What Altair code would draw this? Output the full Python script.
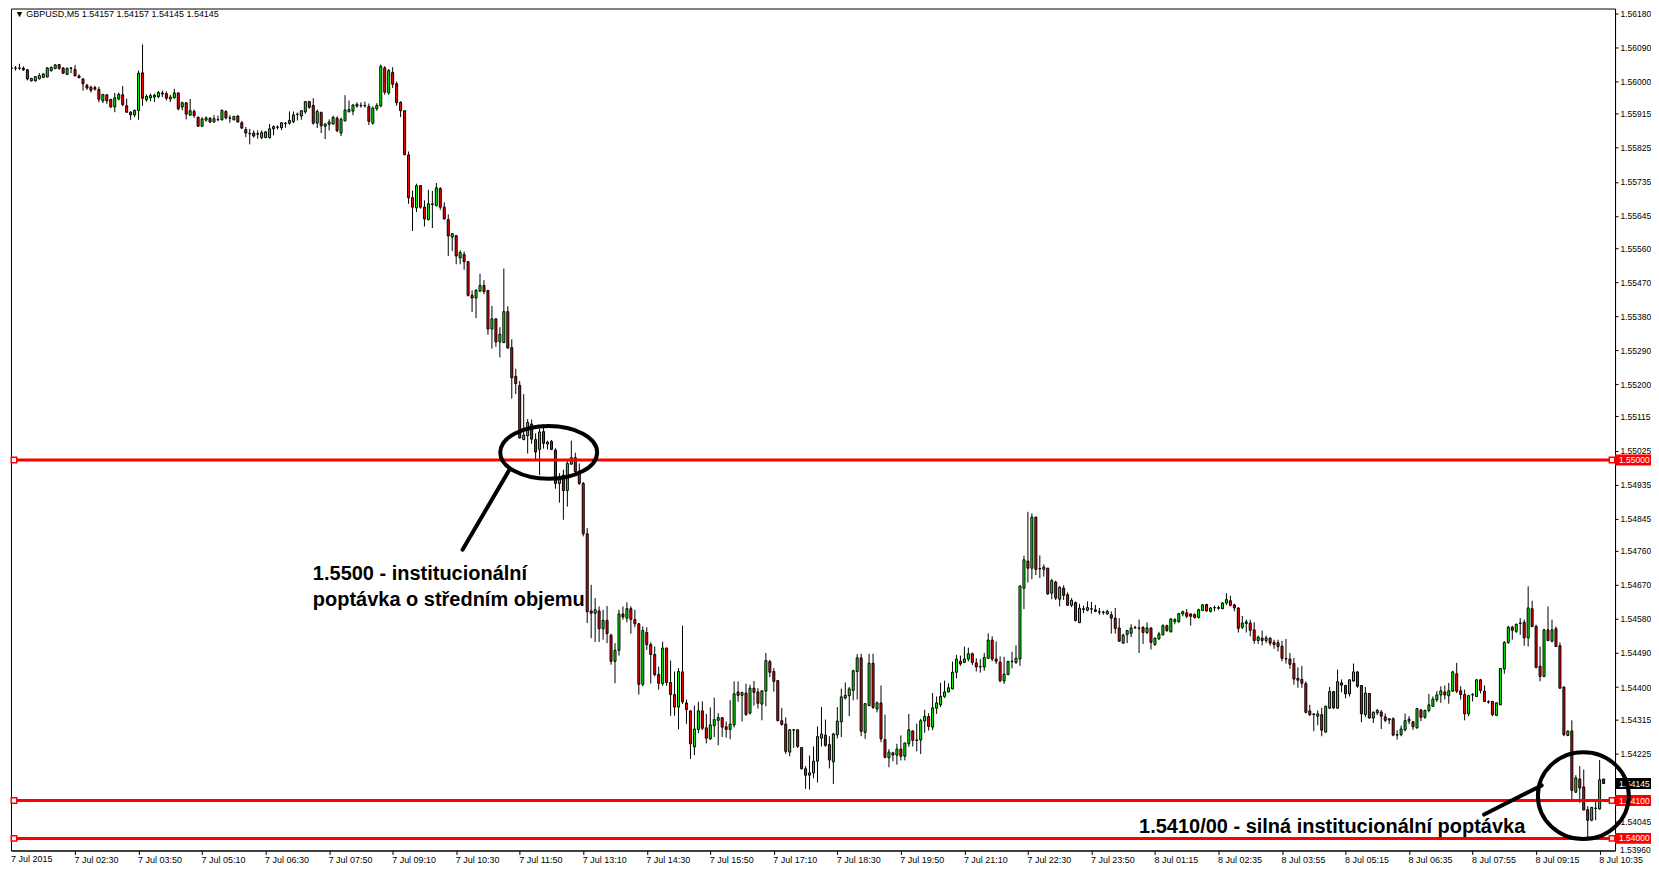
import altair as alt
import pandas as pd

# ---------------- data (GBPUSD M5) ----------------
opens = [
 1.56036,1.56035,1.56036,1.56035,1.56031,1.56002,1.56002,1.56007,1.56011,1.56012,
 1.56029,1.56034,1.56045,1.56036,1.56019,1.56035,1.56032,1.56015,1.56007,1.55990,
 1.55985,1.55984,1.55979,1.55949,1.55965,1.55953,1.55933,1.55954,1.55965,1.55936,
 1.55919,1.55912,1.55923,1.56023,1.55952,1.55957,1.55959,1.55960,1.55967,1.55968,
 1.55954,1.55957,1.55970,1.55933,1.55944,1.55911,1.55921,1.55906,1.55882,1.55898,
 1.55903,1.55893,1.55899,1.55899,1.55921,1.55904,1.55899,1.55909,1.55891,1.55873,
 1.55863,1.55864,1.55862,1.55852,1.55852,1.55852,1.55875,1.55879,1.55878,1.55889,
 1.55890,1.55894,1.55913,1.55909,1.55920,1.55947,1.55937,1.55890,1.55918,1.55882,
 1.55887,1.55888,1.55903,1.55864,1.55896,1.55920,1.55922,1.55935,1.55937,1.55936,
 1.55934,1.55890,1.55928,1.55936,1.56036,1.55970,1.56024,1.55994,1.55945,1.55923,
 1.55806,1.55693,1.55666,1.55725,1.55668,1.55635,1.55675,1.55672,1.55717,1.55668,
 1.55635,1.55589,1.55593,1.55534,1.55543,1.55524,1.55435,1.55428,1.55446,1.55461,
 1.55448,1.55346,1.55373,1.55312,1.55310,1.55392,1.55297,1.55221,1.55197,1.55054,
 1.55064,1.55095,1.55054,1.55028,1.55075,1.55042,1.55049,1.55026,1.54938,1.54960,
 1.54919,1.54989,1.55006,1.54969,1.54938,1.54805,1.54601,1.54595,1.54601,1.54554,
 1.54576,1.54537,1.54468,1.54497,1.54593,1.54582,1.54607,1.54578,1.54567,1.54407,
 1.54544,1.54512,1.54486,1.54433,1.54409,1.54503,1.54412,1.54380,1.54347,1.54440,
 1.54358,1.54337,1.54242,1.54288,1.54337,1.54292,1.54263,1.54298,1.54312,1.54319,
 1.54295,1.54288,1.54300,1.54387,1.54378,1.54384,1.54331,1.54397,1.54387,1.54355,
 1.54389,1.54467,1.54441,1.54417,1.54311,1.54302,1.54228,1.54287,1.54287,1.54240,
 1.54184,1.54167,1.54173,1.54204,1.54265,1.54273,1.54248,1.54202,1.54274,1.54308,
 1.54371,1.54377,1.54391,1.54441,1.54477,1.54280,1.54351,1.54463,1.54342,1.54358,
 1.54261,1.54213,1.54226,1.54220,1.54236,1.54217,1.54250,1.54284,1.54260,1.54260,
 1.54310,1.54322,1.54294,1.54344,1.54353,1.54375,1.54387,1.54395,1.54439,1.54468,
 1.54465,1.54474,1.54488,1.54464,1.54453,1.54453,1.54476,1.54524,1.54474,1.54466,
 1.54416,1.54433,1.54467,1.54465,1.54474,1.54661,1.54733,1.54714,1.54849,1.54713,
 1.54711,1.54714,1.54648,1.54677,1.54632,1.54661,1.54644,1.54616,1.54623,1.54570,
 1.54605,1.54603,1.54606,1.54604,1.54599,1.54598,1.54593,1.54591,1.54582,1.54556,
 1.54516,1.54539,1.54542,1.54557,1.54556,1.54558,1.54544,1.54556,1.54512,1.54527,
 1.54538,1.54562,1.54546,1.54573,1.54573,1.54593,1.54596,1.54593,1.54591,1.54584,
 1.54602,1.54618,1.54600,1.54609,1.54608,1.54607,1.54622,1.54628,1.54617,1.54609,
 1.54558,1.54568,1.54569,1.54551,1.54523,1.54529,1.54523,1.54529,1.54518,1.54517,
 1.54508,1.54475,1.54474,1.54462,1.54423,1.54420,1.54409,1.54337,1.54329,1.54323,
 1.54327,1.54281,1.54344,1.54388,1.54344,1.54411,1.54404,1.54382,1.54416,1.54440,
 1.54404,1.54327,1.54383,1.54318,1.54332,1.54334,1.54321,1.54316,1.54316,1.54274,
 1.54274,1.54287,1.54310,1.54308,1.54292,1.54339,1.54320,1.54338,1.54349,1.54366,
 1.54379,1.54387,1.54377,1.54389,1.54435,1.54390,1.54380,1.54329,1.54379,1.54375,
 1.54419,1.54389,1.54361,1.54362,1.54325,1.54353,1.54448,1.54518,1.54558,1.54547,
 1.54568,1.54571,1.54530,1.54607,1.54560,1.54455,1.54428,1.54551,1.54521,1.54554,
 1.54509,1.54400,1.54272,1.54284,1.54122,1.54157,1.54136,1.54076,1.54048,1.54079,
 1.54078,1.54157]

highs = [
 1.56047,1.56041,1.56047,1.56040,1.56033,1.56010,1.56014,1.56022,1.56022,1.56038,
 1.56040,1.56046,1.56046,1.56038,1.56037,1.56038,1.56044,1.56019,1.56008,1.55994,
 1.55989,1.55989,1.55986,1.55967,1.55966,1.55954,1.55970,1.55971,1.55988,1.55955,
 1.55922,1.55926,1.56029,1.56098,1.55966,1.55968,1.55968,1.55975,1.55976,1.55974,
 1.55965,1.55981,1.55971,1.55947,1.55945,1.55954,1.55926,1.55907,1.55906,1.55908,
 1.55906,1.55911,1.55910,1.55926,1.55924,1.55911,1.55909,1.55911,1.55896,1.55880,
 1.55875,1.55871,1.55871,1.55871,1.55869,1.55888,1.55884,1.55884,1.55893,1.55893,
 1.55921,1.55921,1.55918,1.55924,1.55948,1.55948,1.55956,1.55926,1.55921,1.55889,
 1.55900,1.55910,1.55908,1.55905,1.55964,1.55950,1.55940,1.55945,1.55945,1.55947,
 1.55942,1.55934,1.55943,1.56045,1.56041,1.56033,1.56038,1.56000,1.55948,1.55924,
 1.55815,1.55712,1.55730,1.55726,1.55686,1.55714,1.55711,1.55732,1.55721,1.55681,
 1.55649,1.55599,1.55594,1.55554,1.55551,1.55525,1.55448,1.55452,1.55492,1.55475,
 1.55449,1.55407,1.55374,1.55351,1.55506,1.55406,1.55319,1.55241,1.55209,1.55174,
 1.55108,1.55107,1.55070,1.55083,1.55094,1.55051,1.55053,1.55031,1.54965,1.54974,
 1.54998,1.55051,1.55019,1.54991,1.54942,1.54820,1.54670,1.54635,1.54613,1.54604,
 1.54614,1.54541,1.54516,1.54604,1.54613,1.54624,1.54613,1.54604,1.54569,1.54560,
 1.54558,1.54518,1.54507,1.54454,1.54520,1.54504,1.54470,1.54441,1.54450,1.54562,
 1.54367,1.54338,1.54351,1.54361,1.54362,1.54329,1.54346,1.54372,1.54331,1.54320,
 1.54309,1.54365,1.54415,1.54415,1.54388,1.54409,1.54406,1.54416,1.54397,1.54391,
 1.54490,1.54472,1.54450,1.54418,1.54345,1.54320,1.54289,1.54289,1.54288,1.54241,
 1.54191,1.54219,1.54243,1.54296,1.54347,1.54314,1.54270,1.54279,1.54347,1.54396,
 1.54412,1.54400,1.54446,1.54487,1.54488,1.54358,1.54488,1.54488,1.54362,1.54404,
 1.54327,1.54236,1.54229,1.54250,1.54272,1.54253,1.54329,1.54285,1.54303,1.54316,
 1.54340,1.54331,1.54384,1.54375,1.54411,1.54417,1.54410,1.54467,1.54485,1.54483,
 1.54507,1.54504,1.54491,1.54476,1.54474,1.54490,1.54542,1.54534,1.54520,1.54481,
 1.54480,1.54469,1.54493,1.54510,1.54668,1.54747,1.54863,1.54859,1.54850,1.54748,
 1.54724,1.54715,1.54686,1.54681,1.54666,1.54669,1.54650,1.54635,1.54626,1.54620,
 1.54615,1.54626,1.54625,1.54617,1.54609,1.54602,1.54604,1.54600,1.54609,1.54582,
 1.54541,1.54551,1.54566,1.54562,1.54578,1.54560,1.54571,1.54558,1.54531,1.54546,
 1.54566,1.54565,1.54581,1.54582,1.54595,1.54602,1.54606,1.54595,1.54595,1.54607,
 1.54619,1.54620,1.54611,1.54615,1.54615,1.54624,1.54648,1.54641,1.54620,1.54610,
 1.54588,1.54578,1.54578,1.54571,1.54536,1.54549,1.54536,1.54532,1.54525,1.54525,
 1.54522,1.54527,1.54490,1.54477,1.54452,1.54456,1.54415,1.54353,1.54330,1.54338,
 1.54345,1.54351,1.54400,1.54389,1.54446,1.54420,1.54406,1.54420,1.54462,1.54441,
 1.54405,1.54400,1.54384,1.54336,1.54342,1.54339,1.54330,1.54317,1.54320,1.54286,
 1.54298,1.54330,1.54323,1.54310,1.54344,1.54342,1.54340,1.54382,1.54375,1.54389,
 1.54402,1.54404,1.54411,1.54443,1.54464,1.54402,1.54393,1.54380,1.54384,1.54421,
 1.54421,1.54404,1.54365,1.54363,1.54360,1.54450,1.54521,1.54562,1.54562,1.54567,
 1.54582,1.54578,1.54666,1.54628,1.54565,1.54507,1.54554,1.54613,1.54578,1.54560,
 1.54518,1.54401,1.54286,1.54312,1.54167,1.54191,1.54182,1.54085,1.54083,1.54103,
 1.54207,1.54157]

lows = [
 1.56028,1.56029,1.56031,1.56028,1.56003,1.56000,1.56000,1.56006,1.56009,1.56011,
 1.56026,1.56033,1.56031,1.56020,1.56017,1.56022,1.56014,1.56009,1.55976,1.55978,
 1.55971,1.55976,1.55945,1.55943,1.55941,1.55930,1.55919,1.55950,1.55935,1.55918,
 1.55899,1.55906,1.55899,1.55936,1.55947,1.55948,1.55946,1.55956,1.55959,1.55950,
 1.55946,1.55955,1.55924,1.55924,1.55900,1.55910,1.55904,1.55880,1.55880,1.55894,
 1.55890,1.55892,1.55895,1.55897,1.55900,1.55891,1.55897,1.55892,1.55875,1.55853,
 1.55834,1.55852,1.55849,1.55848,1.55850,1.55849,1.55858,1.55873,1.55872,1.55878,
 1.55886,1.55890,1.55897,1.55899,1.55915,1.55928,1.55886,1.55877,1.55864,1.55848,
 1.55871,1.55886,1.55866,1.55856,1.55895,1.55919,1.55911,1.55931,1.55931,1.55931,
 1.55885,1.55886,1.55923,1.55932,1.55965,1.55965,1.55983,1.55936,1.55906,1.55805,
 1.55677,1.55605,1.55655,1.55664,1.55617,1.55633,1.55613,1.55670,1.55661,1.55635,
 1.55539,1.55552,1.55517,1.55517,1.55503,1.55432,1.55391,1.55375,1.55445,1.55438,
 1.55331,1.55294,1.55299,1.55271,1.55309,1.55294,1.55162,1.55174,1.55057,1.55052,
 1.55017,1.55043,1.54999,1.54960,1.55030,1.55028,1.55026,1.54924,1.54887,1.54842,
 1.54877,1.54987,1.54966,1.54934,1.54798,1.54569,1.54529,1.54519,1.54519,1.54525,
 1.54516,1.54459,1.54410,1.54483,1.54578,1.54571,1.54541,1.54558,1.54380,1.54402,
 1.54498,1.54409,1.54428,1.54393,1.54403,1.54403,1.54324,1.54324,1.54288,1.54355,
 1.54303,1.54210,1.54220,1.54278,1.54286,1.54251,1.54260,1.54268,1.54246,1.54268,
 1.54266,1.54262,1.54293,1.54361,1.54309,1.54324,1.54327,1.54351,1.54343,1.54312,
 1.54349,1.54426,1.54388,1.54309,1.54298,1.54223,1.54217,1.54239,1.54239,1.54182,
 1.54131,1.54129,1.54159,1.54148,1.54243,1.54242,1.54185,1.54144,1.54264,1.54268,
 1.54367,1.54323,1.54365,1.54367,1.54270,1.54263,1.54349,1.54342,1.54333,1.54254,
 1.54212,1.54188,1.54204,1.54195,1.54206,1.54206,1.54242,1.54243,1.54230,1.54223,
 1.54279,1.54285,1.54286,1.54329,1.54347,1.54371,1.54386,1.54394,1.54423,1.54456,
 1.54463,1.54468,1.54458,1.54441,1.54438,1.54443,1.54474,1.54468,1.54461,1.54412,
 1.54408,1.54431,1.54449,1.54461,1.54456,1.54606,1.54676,1.54685,1.54696,1.54688,
 1.54692,1.54644,1.54632,1.54630,1.54613,1.54630,1.54615,1.54611,1.54573,1.54569,
 1.54595,1.54600,1.54594,1.54598,1.54591,1.54591,1.54591,1.54541,1.54541,1.54520,
 1.54514,1.54516,1.54532,1.54555,1.54490,1.54514,1.54540,1.54499,1.54509,1.54525,
 1.54536,1.54546,1.54544,1.54566,1.54569,1.54587,1.54582,1.54562,1.54581,1.54581,
 1.54601,1.54599,1.54597,1.54600,1.54604,1.54606,1.54617,1.54613,1.54600,1.54544,
 1.54553,1.54544,1.54534,1.54514,1.54514,1.54510,1.54516,1.54509,1.54501,1.54494,
 1.54468,1.54462,1.54448,1.54406,1.54398,1.54398,1.54330,1.54323,1.54283,1.54299,
 1.54270,1.54279,1.54342,1.54342,1.54343,1.54386,1.54370,1.54375,1.54414,1.54398,
 1.54307,1.54321,1.54316,1.54305,1.54326,1.54289,1.54307,1.54302,1.54270,1.54261,
 1.54270,1.54283,1.54302,1.54287,1.54290,1.54310,1.54316,1.54333,1.54348,1.54361,
 1.54358,1.54367,1.54356,1.54387,1.54384,1.54367,1.54312,1.54323,1.54362,1.54374,
 1.54383,1.54361,1.54356,1.54323,1.54323,1.54352,1.54435,1.54514,1.54525,1.54543,
 1.54538,1.54509,1.54507,1.54558,1.54449,1.54415,1.54426,1.54521,1.54518,1.54506,
 1.54395,1.54270,1.54270,1.54098,1.54120,1.54094,1.54074,1.54001,1.54045,1.54048,
 1.54076,1.54145]

closes = [
 1.56035,1.56036,1.56035,1.56031,1.56007,1.56008,1.56013,1.56016,1.56020,1.56036,
 1.56037,1.56044,1.56035,1.56022,1.56035,1.56036,1.56015,1.56010,1.55994,1.55983,
 1.55977,1.55980,1.55953,1.55966,1.55949,1.55933,1.55957,1.55966,1.55939,1.55919,
 1.55912,1.55924,1.56022,1.55956,1.55961,1.55963,1.55964,1.55971,1.55970,1.55956,
 1.55959,1.55970,1.55928,1.55944,1.55914,1.55923,1.55910,1.55882,1.55901,1.55904,
 1.55893,1.55902,1.55900,1.55924,1.55904,1.55903,1.55908,1.55893,1.55877,1.55864,
 1.55862,1.55856,1.55861,1.55865,1.55867,1.55875,1.55881,1.55880,1.55891,1.55890,
 1.55897,1.55912,1.55914,1.55923,1.55947,1.55932,1.55890,1.55921,1.55883,1.55888,
 1.55893,1.55905,1.55870,1.55900,1.55925,1.55926,1.55938,1.55940,1.55936,1.55937,
 1.55895,1.55930,1.55937,1.56040,1.55972,1.56029,1.55993,1.55944,1.55923,1.55807,
 1.55693,1.55668,1.55725,1.55668,1.55637,1.55677,1.55677,1.55719,1.55668,1.55637,
 1.55592,1.55598,1.55539,1.55548,1.55524,1.55435,1.55428,1.55448,1.55461,1.55445,
 1.55346,1.55373,1.55312,1.55332,1.55392,1.55296,1.55217,1.55202,1.55058,1.55066,
 1.55099,1.55055,1.55021,1.55074,1.55044,1.55047,1.55028,1.54938,1.54952,1.54919,
 1.54991,1.55006,1.54969,1.54938,1.54805,1.54599,1.54595,1.54604,1.54554,1.54576,
 1.54541,1.54468,1.54497,1.54593,1.54585,1.54607,1.54579,1.54567,1.54407,1.54549,
 1.54512,1.54486,1.54433,1.54410,1.54503,1.54412,1.54380,1.54347,1.54441,1.54361,
 1.54340,1.54250,1.54289,1.54337,1.54291,1.54265,1.54300,1.54314,1.54319,1.54294,
 1.54288,1.54302,1.54382,1.54378,1.54385,1.54327,1.54397,1.54386,1.54357,1.54390,
 1.54470,1.54439,1.54415,1.54311,1.54301,1.54230,1.54287,1.54286,1.54243,1.54184,
 1.54167,1.54173,1.54204,1.54269,1.54276,1.54246,1.54207,1.54276,1.54310,1.54374,
 1.54378,1.54395,1.54443,1.54477,1.54283,1.54356,1.54463,1.54346,1.54358,1.54263,
 1.54214,1.54228,1.54220,1.54236,1.54217,1.54252,1.54287,1.54259,1.54259,1.54311,
 1.54322,1.54296,1.54345,1.54358,1.54375,1.54387,1.54398,1.54439,1.54474,1.54461,
 1.54474,1.54488,1.54465,1.54453,1.54454,1.54478,1.54524,1.54474,1.54468,1.54417,
 1.54434,1.54468,1.54468,1.54476,1.54667,1.54736,1.54714,1.54849,1.54711,1.54712,
 1.54717,1.54646,1.54681,1.54635,1.54664,1.54642,1.54616,1.54629,1.54576,1.54608,
 1.54607,1.54610,1.54607,1.54600,1.54598,1.54597,1.54600,1.54582,1.54555,1.54521,
 1.54537,1.54549,1.54556,1.54556,1.54555,1.54544,1.54556,1.54518,1.54529,1.54540,
 1.54562,1.54549,1.54580,1.54578,1.54594,1.54599,1.54587,1.54587,1.54584,1.54604,
 1.54617,1.54601,1.54609,1.54610,1.54610,1.54622,1.54631,1.54616,1.54609,1.54555,
 1.54569,1.54572,1.54550,1.54523,1.54532,1.54523,1.54530,1.54516,1.54512,1.54507,
 1.54476,1.54474,1.54460,1.54421,1.54418,1.54410,1.54333,1.54327,1.54327,1.54329,
 1.54286,1.54349,1.54388,1.54345,1.54414,1.54405,1.54382,1.54419,1.54440,1.54402,
 1.54329,1.54384,1.54318,1.54333,1.54338,1.54323,1.54312,1.54313,1.54273,1.54273,
 1.54289,1.54311,1.54315,1.54295,1.54343,1.54320,1.54338,1.54353,1.54368,1.54379,
 1.54390,1.54379,1.54390,1.54440,1.54389,1.54380,1.54329,1.54377,1.54380,1.54419,
 1.54391,1.54362,1.54360,1.54327,1.54358,1.54449,1.54518,1.54558,1.54550,1.54566,
 1.54569,1.54530,1.54609,1.54560,1.54452,1.54428,1.54551,1.54523,1.54551,1.54507,
 1.54397,1.54274,1.54283,1.54127,1.54160,1.54133,1.54075,1.54048,1.54082,1.54080,
 1.54155,1.54145]

time_labels = [
 "7 Jul 2015", "7 Jul 02:30", "7 Jul 03:50", "7 Jul 05:10", "7 Jul 06:30",
 "7 Jul 07:50", "7 Jul 09:10", "7 Jul 10:30", "7 Jul 11:50", "7 Jul 13:10",
 "7 Jul 14:30", "7 Jul 15:50", "7 Jul 17:10", "7 Jul 18:30", "7 Jul 19:50",
 "7 Jul 21:10", "7 Jul 22:30", "7 Jul 23:50", "8 Jul 01:15", "8 Jul 02:35",
 "8 Jul 03:55", "8 Jul 05:15", "8 Jul 06:35", "8 Jul 07:55", "8 Jul 09:15",
 "8 Jul 10:35"]
time_label_every = 16

# price-scale labels (1.54135 sits under the current-price box, 1.53960 at the very bottom)
price_ticks = [1.56180, 1.56090, 1.56000, 1.55915, 1.55825, 1.55735, 1.55645,
               1.55560, 1.55470, 1.55380, 1.55290, 1.55200, 1.55115, 1.55025,
               1.54935, 1.54845, 1.54760, 1.54670, 1.54580, 1.54490, 1.54400,
               1.54315, 1.54225, 1.54045]
bottom_tick_label = "1.53960"

levels = [1.55000, 1.54100, 1.54000]
level_labels = ["1.55000", "1.54100", "1.54000"]
last_price = [1.54145]
last_label = ["1.54145"]

header = "\u25bc GBPUSD,M5  1.54157 1.54157 1.54145 1.54145"

ann_text = ["1.5500 - institucionální", "poptávka o středním objemu",
            "1.5410/00 - silná institucionální poptávka"]
ann_bar = [75.9, 75.9, 284.0]
ann_price = [1.54699, 1.54631, 1.54029]

ellipse_bar = [135.3, 395.9]
ellipse_price = [1.55020, 1.54113]

pointer_bar = [113.6, 370.9]
pointer_bar2 = [125.4, 385.4]
pointer_price = [1.54763, 1.54063]
pointer_price2 = [1.54974, 1.54140]

# ---------------- layout ----------------
W, H = 1606, 843
PX_PER_BAR = 4
XDOM = [1.125, 1.125 + W / PX_PER_BAR]
YDOM = [1.53968, 1.56193]
FONT = "Liberation Sans"
PFONT = 8.5      # price-scale font size
BOXW = 36        # width of the price boxes on the scale

xs = alt.Scale(domain=XDOM, nice=False, zero=False)
ys = alt.Scale(domain=YDOM, nice=False, zero=False)

n = len(opens)
bars = pd.DataFrame({"bar": list(range(n)), "open": opens, "high": highs,
                     "low": lows, "close": closes})
bars["dir"] = ["up" if c >= o else "down" for o, c in zip(opens, closes)]

label_js = "[" + ",".join("'%s'" % t for t in time_labels) + "]"
x_axis = alt.Axis(values=[i * time_label_every for i in range(1, len(time_labels))],
                  labelExpr=label_js + "[round(datum.value/%d)]" % time_label_every,
                  orient="bottom", labelAlign="left", labelBaseline="top",
                  labelPadding=1, labelOffset=-1, tickSize=4, labelOverlap=False,
                  labelFlush=False, grid=False, title=None, zindex=0,
                  labelFontSize=9)
y_axis = alt.Axis(values=price_ticks, format=".5f", orient="right", tickSize=3,
                  labelPadding=2, labelOverlap=False, labelFlush=False,
                  labelBaseline="middle", grid=False, title=None, zindex=0,
                  labelFontSize=PFONT)


def X(field):
    return alt.X(field, scale=xs, axis=x_axis)


def Y(field):
    return alt.Y(field, scale=ys, axis=y_axis)


base = alt.Chart(bars)
wicks = base.mark_rule(color="black", strokeWidth=1, clip=True).encode(
    x=X("bar:Q"), y=Y("low:Q"), y2="high:Q")
bodies = base.mark_bar(size=2, stroke="black", strokeWidth=1, clip=True).encode(
    x=X("bar:Q"), y=Y("open:Q"), y2="close:Q",
    fill=alt.Fill("dir:N", scale=alt.Scale(domain=["up", "down"],
                                           range=["#00ff00", "#ff0000"]), legend=None))

lv = pd.DataFrame({"price": levels, "label": level_labels})
hlines = alt.Chart(lv).mark_rule(color="#ff0000", strokeWidth=3).encode(y=Y("price:Q"))
mark_l = alt.Chart(lv).mark_point(shape="square", size=30, filled=True, fill="white",
                                  stroke="#ff0000", strokeWidth=1.5, opacity=1).encode(
    x=alt.value(3), y=Y("price:Q"))
mark_r = alt.Chart(lv).mark_point(shape="square", size=30, filled=True, fill="white",
                                  stroke="#ff0000", strokeWidth=1.5, opacity=1).encode(
    x=alt.value(W - 3), y=Y("price:Q"))

BOX = "M -1 -0.305 L 1 -0.305 L 1 0.305 L -1 0.305 Z"
box_r = alt.Chart(lv).mark_point(shape=BOX, size=BOXW * BOXW, filled=True,
                                 color="#ff0000", opacity=1, strokeWidth=0).encode(
    x=alt.value(W + BOXW / 2), y=Y("price:Q"))
box_r_txt = alt.Chart(lv).mark_text(align="left", baseline="middle", color="white",
                                    font=FONT, fontSize=PFONT).encode(
    x=alt.value(W + 4), y=Y("price:Q"), text="label:N")

lp = pd.DataFrame({"price": last_price, "label": last_label})
box_k = alt.Chart(lp).mark_point(shape=BOX, size=BOXW * BOXW, filled=True,
                                 color="black", opacity=1, strokeWidth=0).encode(
    x=alt.value(W + BOXW / 2), y=Y("price:Q"))
box_k_txt = alt.Chart(lp).mark_text(align="left", baseline="middle", color="white",
                                    font=FONT, fontSize=PFONT).encode(
    x=alt.value(W + 4), y=Y("price:Q"), text="label:N")

bt = pd.DataFrame({"t": [bottom_tick_label]})
bottom_lbl = alt.Chart(bt).mark_text(align="left", baseline="middle", color="black",
                                     font=FONT, fontSize=PFONT).encode(
    x=alt.value(W + 5), y=alt.value(H), text="t:N")

ELL1 = ("M -1 0 C -1 -0.3016 -0.5523 -0.546 0 -0.546 C 0.5523 -0.546 1 -0.3016 1 0 "
        "C 1 0.3016 0.5523 0.546 0 0.546 C -0.5523 0.546 -1 0.3016 -1 0 Z")
ELL2 = ("M -1 0 C -1 -0.528 -0.5523 -0.956 0 -0.956 C 0.5523 -0.956 1 -0.528 1 0 "
        "C 1 0.528 0.5523 0.956 0 0.956 C -0.5523 0.956 -1 0.528 -1 0 Z")
e1 = pd.DataFrame({"bar": ellipse_bar[:1], "price": ellipse_price[:1]})
e2 = pd.DataFrame({"bar": ellipse_bar[1:], "price": ellipse_price[1:]})
ell1 = alt.Chart(e1).mark_point(shape=ELL1, size=97 * 97, filled=False, color="black",
                                strokeWidth=4, opacity=1).encode(
    x=X("bar:Q"), y=Y("price:Q"))
ell2 = alt.Chart(e2).mark_point(shape=ELL2, size=91 * 91, filled=False, color="black",
                                strokeWidth=4, opacity=1).encode(
    x=X("bar:Q"), y=Y("price:Q"))

pt = pd.DataFrame({"b1": pointer_bar, "b2": pointer_bar2,
                   "p1": pointer_price, "p2": pointer_price2})
pointers = alt.Chart(pt).mark_rule(color="black", strokeWidth=4, strokeCap="round").encode(
    x=X("b1:Q"), x2="b2:Q", y=Y("p1:Q"), y2="p2:Q")

at = pd.DataFrame({"bar": ann_bar, "price": ann_price, "t": ann_text})
ann = alt.Chart(at).mark_text(align="left", baseline="middle", font=FONT, fontSize=20,
                              fontWeight="bold", color="black").encode(
    x=X("bar:Q"), y=Y("price:Q"), text="t:N")

hd = pd.DataFrame({"t": [header]})
head = alt.Chart(hd).mark_text(align="left", baseline="top", font=FONT, fontSize=9,
                               color="black").encode(
    x=alt.value(4), y=alt.value(1), text="t:N")

first = pd.DataFrame({"t": time_labels[:1]})
first_lbl = alt.Chart(first).mark_text(align="left", baseline="top", font=FONT,
                                       fontSize=9, color="black").encode(
    x=alt.value(0), y=alt.value(H + 5), text="t:N")

chart = alt.layer(
    wicks, bodies, hlines, mark_l, mark_r, box_r, box_r_txt, box_k, box_k_txt,
    bottom_lbl, ell1, ell2, pointers, ann, head, first_lbl
).properties(width=W, height=H, padding=0, background="white").configure_view(
    stroke="black", strokeWidth=1
).configure_axis(
    domainColor="black", tickColor="black", labelColor="black",
    labelFont=FONT, domainWidth=1, tickWidth=1
)

chart.save("out.html", embed_options={"renderer": "svg", "actions": False})
